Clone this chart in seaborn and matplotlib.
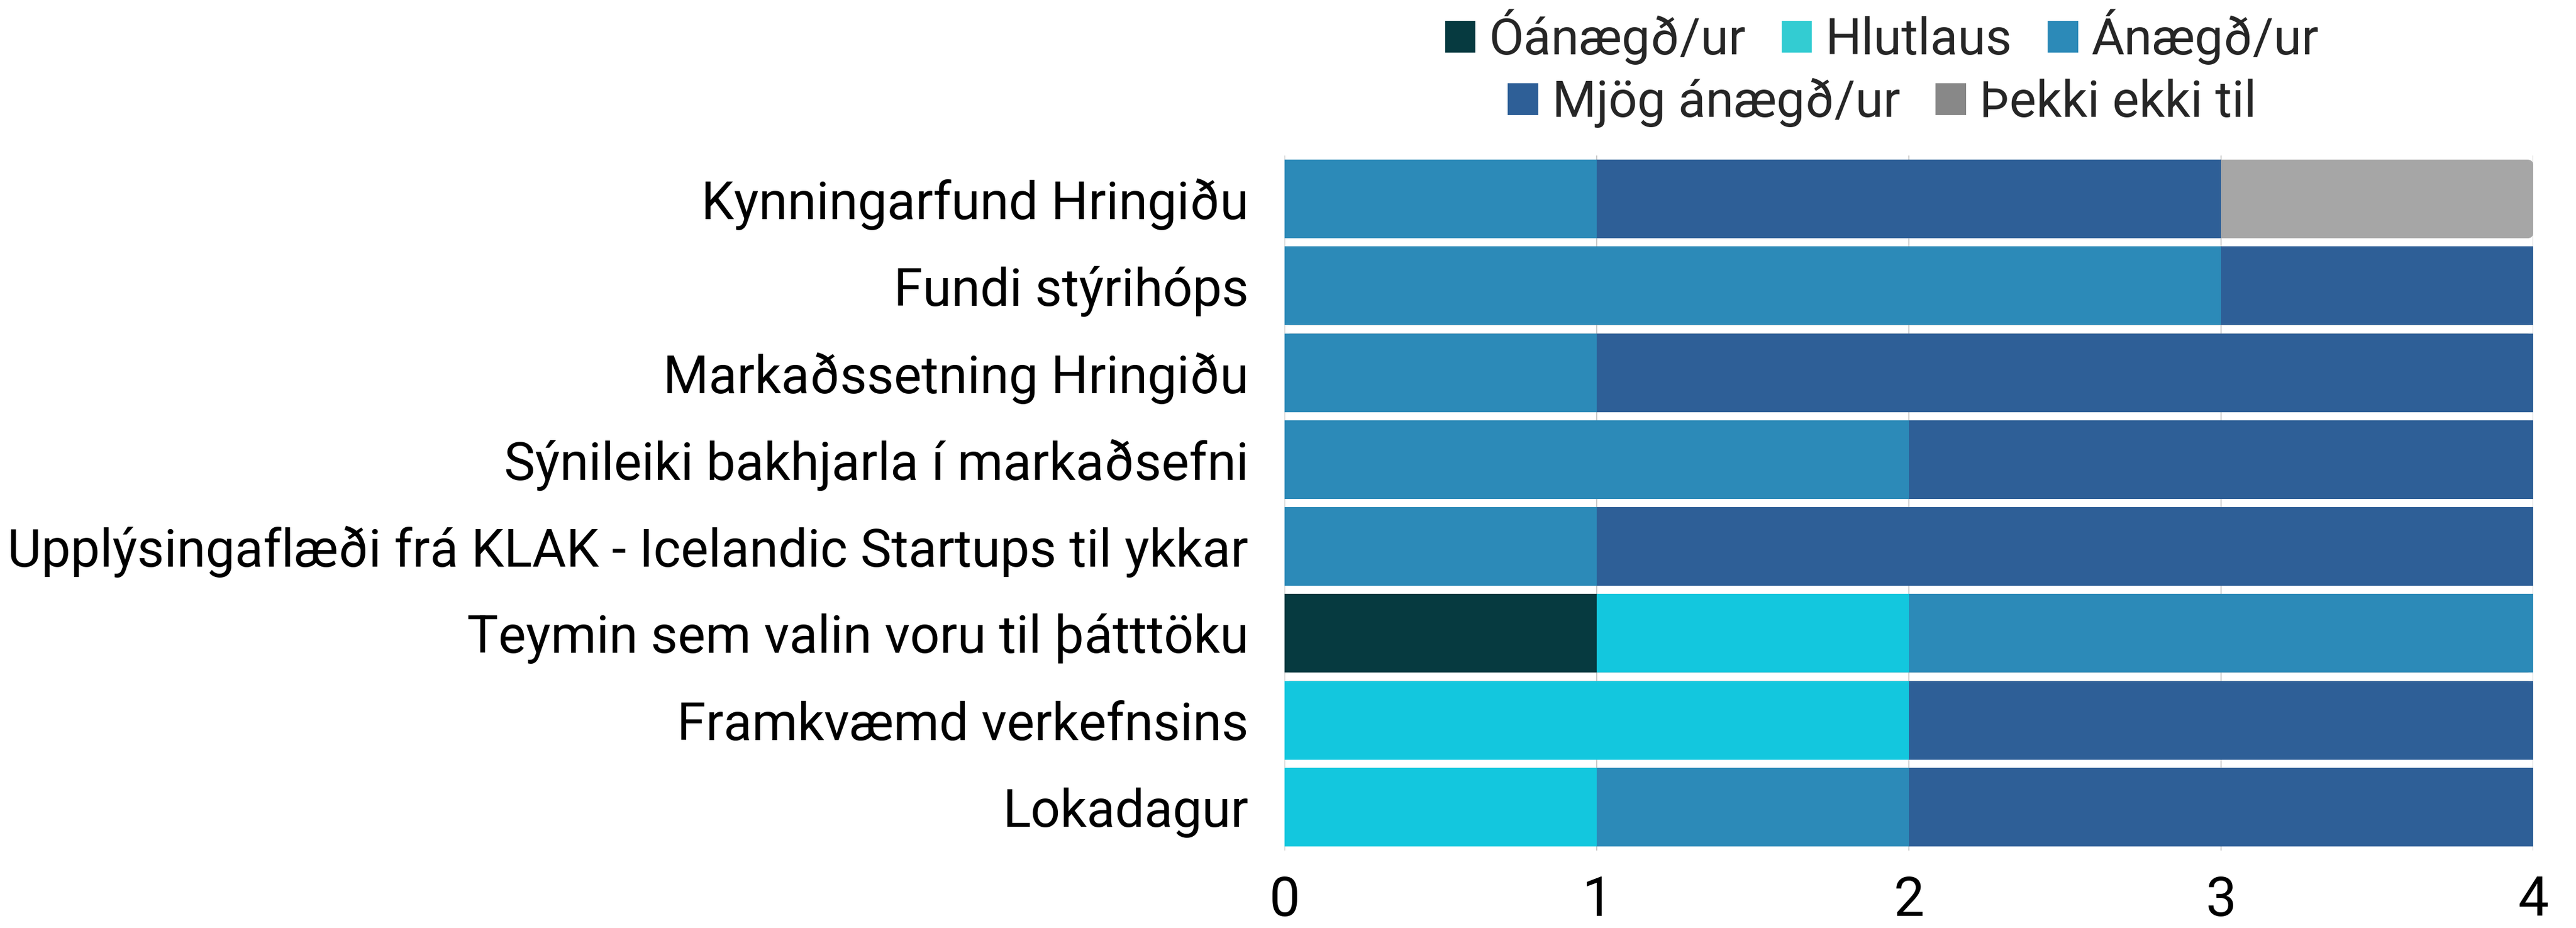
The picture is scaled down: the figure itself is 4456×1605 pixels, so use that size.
import matplotlib
matplotlib.use("Agg")
import matplotlib.pyplot as plt
from matplotlib.patches import FancyBboxPatch, Patch
import seaborn as sns
import pandas as pd

categories = [
    "Kynningarfund Hringiðu",
    "Fundi stýrihóps",
    "Markaðssetning Hringiðu",
    "Sýnileiki bakhjarla í markaðsefni",
    "Upplýsingaflæði frá KLAK - Icelandic Startups til ykkar",
    "Teymin sem valin voru til þátttöku",
    "Framkvæmd verkefnsins",
    "Lokadagur",
]
series = ["Óánægð/ur", "Hlutlaus", "Ánægð/ur", "Mjög ánægð/ur", "Þekki ekki til"]
oanaegd = [0, 0, 0, 0, 0, 1, 0, 0]
hlutlaus = [0, 0, 0, 0, 0, 1, 2, 1]
anaegd = [1, 3, 1, 2, 1, 2, 0, 1]
mjog = [2, 1, 3, 2, 3, 0, 2, 2]
thekki = [1, 0, 0, 0, 0, 0, 0, 0]

bar_colors = ["#063A40", "#13C7DE", "#2C8AB8", "#2E5F97", "#A6A6A6"]
legend_colors = ["#063A40", "#33CCD2", "#2C8AB8", "#2E5F97", "#888888"]

df = pd.DataFrame({"Flokkur": categories})
for name, vals in zip(series, [oanaegd, hlutlaus, anaegd, mjog, thekki]):
    df[name] = vals
cum = df[series].cumsum(axis=1)
cum["Flokkur"] = categories

FONT = "Roboto"
FS = 65
sns.set_theme(style="white")
plt.rcParams["font.family"] = [FONT, "DejaVu Sans"]

fig = plt.figure(figsize=(44.56, 16.05), dpi=100)
ax = fig.add_axes([0.4987, 0.0835, 0.4847, 0.7489])

# stacked: draw cumulative totals from the outermost series inwards
for i in range(len(series) - 1, -1, -1):
    sns.barplot(data=cum, x=series[i], y="Flokkur", color=bar_colors[i],
                orient="h", width=0.905, saturation=1, linewidth=0,
                edgecolor="none", ax=ax, zorder=2)
    if i == len(series) - 1:
        # round the right end of each full bar
        for rect in list(ax.patches):
            x0, y0 = rect.get_x(), rect.get_y()
            w, h = rect.get_width(), rect.get_height()
            rect.set_visible(False)
            ax.add_patch(FancyBboxPatch((x0, y0), w, h,
                                        boxstyle="round,pad=0,rounding_size=0.0185",
                                        mutation_aspect=3.6, facecolor=bar_colors[i],
                                        edgecolor="none", linewidth=0, zorder=2))

ax.set_xlim(0, 4)
ax.set_xticks([0, 1, 2, 3, 4])
ax.set_xlabel("")
ax.set_ylabel("")
ax.grid(axis="x", color="#C0C0C0", linewidth=1.2, zorder=0)
ax.set_axisbelow(True)
for s in ax.spines.values():
    s.set_visible(False)
ax.tick_params(axis="x", length=0, pad=30, labelsize=68, labelcolor="black")
ax.tick_params(axis="y", length=0, pad=45, labelsize=FS, labelcolor="black")

h1 = [Patch(facecolor=legend_colors[i], edgecolor="none", label=series[i]) for i in range(3)]
h2 = [Patch(facecolor=legend_colors[i], edgecolor="none", label=series[i]) for i in range(3, 5)]
common = dict(frameon=False, fontsize=63, handlelength=0.6, handleheight=0.6,
              handletextpad=0.27, columnspacing=0.7, borderpad=0, borderaxespad=0,
              loc="center", bbox_transform=fig.transFigure)
fig.legend(handles=h1, ncol=3, bbox_to_anchor=(0.7307, 0.96), **common)
fig.legend(handles=h2, ncol=2, bbox_to_anchor=(0.7307, 0.889), **common)

fig.savefig("out.png", dpi=100)
plt.close(fig)
